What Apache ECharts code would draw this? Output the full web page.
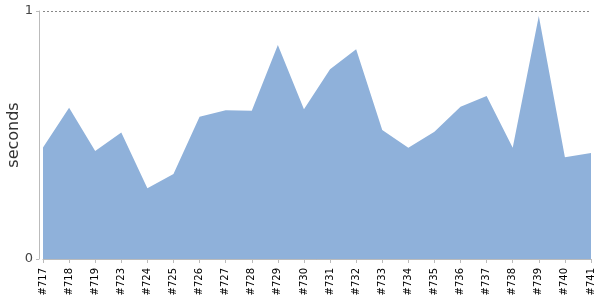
<!DOCTYPE html>
<html>
<head>
<meta charset="utf-8">
<script src="https://cdn.jsdelivr.net/npm/echarts@6/dist/echarts.min.js"></script>
<style>
  html, body { margin: 0; padding: 0; background: #fff; }
  #main { width: 600px; height: 300px; }
</style>
</head>
<body>
<div id="main"></div>
<script>
const builds = ["#717", "#718", "#719", "#723", "#724", "#725", "#726", "#727", "#728", "#729", "#730",
  "#731", "#732", "#733", "#734", "#735", "#736", "#737", "#738", "#739", "#740", "#741"];
const seconds = [0.45, 0.61, 0.435, 0.51, 0.285, 0.343, 0.574, 0.60, 0.598, 0.863, 0.604,
  0.765, 0.846, 0.52, 0.449, 0.513, 0.614, 0.657, 0.449, 0.98, 0.41, 0.427];

const chart = echarts.init(document.getElementById("main"));
chart.setOption({
  animation: false,
  grid: { left: 43, right: 9, top: 11, bottom: 41, containLabel: false, outerBoundsMode: "none" },
  xAxis: {
    type: "category",
    data: builds,
    boundaryGap: false,
    offset: 4,
    axisLine: { lineStyle: { color: "#bbb" } },
    axisTick: { alignWithLabel: true, length: 4, lineStyle: { color: "#bbb" } },
    axisLabel: {
      rotate: 90,
      interval: 0,
      color: "#000",
      fontSize: 10,
      fontFamily: "DejaVu Sans",
      margin: 5
    }
  },
  yAxis: {
    type: "value",
    min: 0,
    max: 1,
    interval: 1,
    offset: 4,
    name: "seconds",
    nameLocation: "middle",
    nameGap: 17,
    nameMoveOverlap: false,
    nameTextStyle: { fontSize: 16, color: "#333", fontFamily: "DejaVu Sans" },
    axisLine: { show: true, lineStyle: { color: "#bbb" } },
    axisTick: { show: true, length: 3, lineStyle: { color: "#bbb" } },
    axisLabel: { color: "#444", fontSize: 13, fontFamily: "DejaVu Sans", margin: 6 },
    splitLine: {
      show: true,
      lineStyle: { type: [2, 2], color: "#888", width: 1 }
    }
  },
  series: [{
    type: "line",
    data: seconds,
    symbol: "none",
    lineStyle: { width: 0 },
    areaStyle: { color: "#8fb1da", opacity: 1 }
  }]
});
</script>
</body>
</html>
